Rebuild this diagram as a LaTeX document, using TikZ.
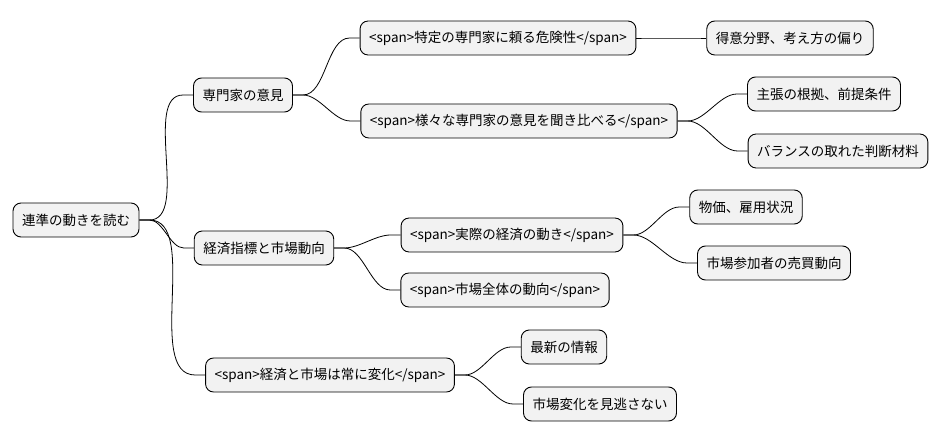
\documentclass[tikz,border=0pt]{standalone}
\usepackage{fontspec}
\setmainfont{Noto Sans CJK JP}
\begin{document}
\begin{tikzpicture}[x=1pt,y=-1pt,
  box/.style={draw=black,line width=0.9pt,fill=gray!10,rounded corners=8pt,inner xsep=9pt,minimum height=34pt,font=\fontsize{13.5}{15}\selectfont},
  con/.style={draw=black,line width=0.8pt}]
\useasboundingbox (0,0) rectangle (943,443);
\node[box] (r) at (76,220) {連準の動きを読む};
\node[box] (a) at (243,95) {専門家の意見};
\node[box] (a1) at (498,38) {<span>特定の専門家に頼る危険性</span>};
\node[box] (a11) at (790,38) {得意分野、考え方の偏り};
\node[box] (a2) at (519,121) {<span>様々な専門家の意見を聞き比べる</span>};
\node[box] (a21) at (824,94) {主張の根拠、前提条件};
\node[box] (a22) at (838,151) {バランスの取れた判断材料};
\node[box] (b) at (264,248) {経済指標と市場動向};
\node[box] (b1) at (512,235) {<span>実際の経済の動き</span>};
\node[box] (b11) at (746,207) {物価、雇用状況};
\node[box] (b12) at (774,263) {市場参加者の売買動向};
\node[box] (b2) at (505,290) {<span>市場全体の動向</span>};
\node[box] (c) at (330,375) {<span>経済と市場は常に変化</span>};
\node[box] (c1) at (564,347) {最新の情報};
\node[box] (c2) at (600,404) {市場変化を見逃さない};
\foreach \p/\c in {r/a,r/b,r/c,a/a1,a/a2,a1/a11,a2/a21,a2/a22,b/b1,b/b2,b1/b11,b1/b12,c/c1,c/c2}
  \draw[con] (\p.east) -- ++(10,0) to[out=0,in=180,looseness=0.8] ([xshift=-10pt]\c.west) -- (\c.west);
\end{tikzpicture}
\end{document}
